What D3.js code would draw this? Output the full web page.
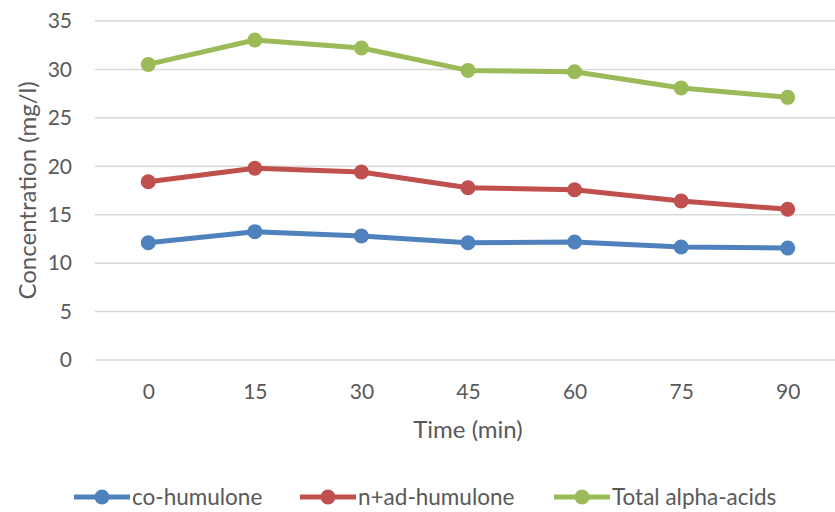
<!DOCTYPE html>
<html>
<head>
<meta charset="utf-8">
<script src="https://cdn.jsdelivr.net/npm/d3@7"></script>
<style>
  html, body { margin: 0; padding: 0; background: #fff; }
  svg text { font-family: Lato, "Open Sans", sans-serif; fill: #595959; }
</style>
</head>
<body>
<svg id="chart" width="835" height="512"></svg>
<script>
// Boil time (minutes) and alpha-acid concentrations (mg/l)
const times = ["0", "15", "30", "45", "60", "75", "90"];
const coHumulone = [12.11, 13.25, 12.80, 12.11, 12.18, 11.67, 11.56];
const nAdHumulone = [18.41, 19.79, 19.41, 17.79, 17.58, 16.42, 15.56];
const totalAlphaAcids = [30.52, 33.04, 32.21, 29.90, 29.76, 28.09, 27.12];
const yTicks = [0, 5, 10, 15, 20, 25, 30, 35];

const series = [
  { name: "co-humulone", values: coHumulone, color: "#4F81BD" },
  { name: "n+ad-humulone", values: nAdHumulone, color: "#C0504D" },
  { name: "Total alpha-acids", values: totalAlphaAcids, color: "#9BBB59" }
];

const svg = d3.select("#chart");
// The plot area runs slightly past the right edge of the canvas
const plot = { left: 95, right: 841, top: 21, bottom: 360 };

const x = d3.scalePoint().domain(times).range([plot.left, plot.right]).padding(0.5);
const y = d3.scaleLinear().domain([0, 35]).range([plot.bottom, plot.top]);

// Horizontal gridlines
svg.append("g")
  .selectAll("line")
  .data(yTicks)
  .join("line")
  .attr("x1", plot.left).attr("x2", plot.right)
  .attr("y1", d => y(d)).attr("y2", d => y(d))
  .attr("stroke", "#D9D9D9").attr("stroke-width", 1.5);

// Y axis labels
const yAxis = svg.append("g")
  .attr("transform", `translate(${plot.left},0)`)
  .call(d3.axisLeft(y).tickValues(yTicks).tickSize(0).tickPadding(23));
yAxis.select(".domain").remove();
yAxis.selectAll("text").style("font-size", "21px").attr("fill", "#595959");

// X axis labels
const xAxis = svg.append("g")
  .attr("transform", `translate(0,${plot.bottom})`)
  .call(d3.axisBottom(x).tickSize(0).tickPadding(24));
xAxis.select(".domain").remove();
xAxis.selectAll("text").style("font-size", "21px").attr("fill", "#595959");

// Axis titles
svg.append("text")
  .attr("transform", `translate(28,${(plot.top + plot.bottom) / 2}) rotate(-90)`)
  .attr("text-anchor", "middle")
  .attr("dy", "0.35em")
  .style("font-size", "24px")
  .text("Concentration (mg/l)");

svg.append("text")
  .attr("x", 468)
  .attr("y", 430)
  .attr("dy", "0.35em")
  .attr("text-anchor", "middle")
  .style("font-size", "24px")
  .text("Time (min)");

// Series lines and markers
const line = d3.line().x((d, i) => x(times[i])).y(d => y(d));

const groups = svg.append("g")
  .selectAll("g")
  .data(series)
  .join("g");

groups.append("path")
  .attr("d", d => line(d.values))
  .attr("fill", "none")
  .attr("stroke", d => d.color)
  .attr("stroke-width", 5)
  .attr("stroke-linejoin", "round");

groups.selectAll("circle")
  .data(d => d.values.map((v, i) => ({ v, i, color: d.color })))
  .join("circle")
  .attr("cx", d => x(times[d.i]))
  .attr("cy", d => y(d.v))
  .attr("r", 7.5)
  .attr("fill", d => d.color);

// Legend
const legendX = [74, 300, 554];
const legend = svg.append("g")
  .selectAll("g")
  .data(series)
  .join("g")
  .attr("transform", (d, i) => `translate(${legendX[i]},497)`);

legend.append("line")
  .attr("x1", 0).attr("x2", 56)
  .attr("stroke", d => d.color).attr("stroke-width", 5);
legend.append("circle")
  .attr("cx", 28).attr("r", 7.5)
  .attr("fill", d => d.color);
legend.append("text")
  .attr("x", 58).attr("dy", "0.35em")
  .style("font-size", "22.5px")
  .text(d => d.name);
</script>
</body>
</html>
